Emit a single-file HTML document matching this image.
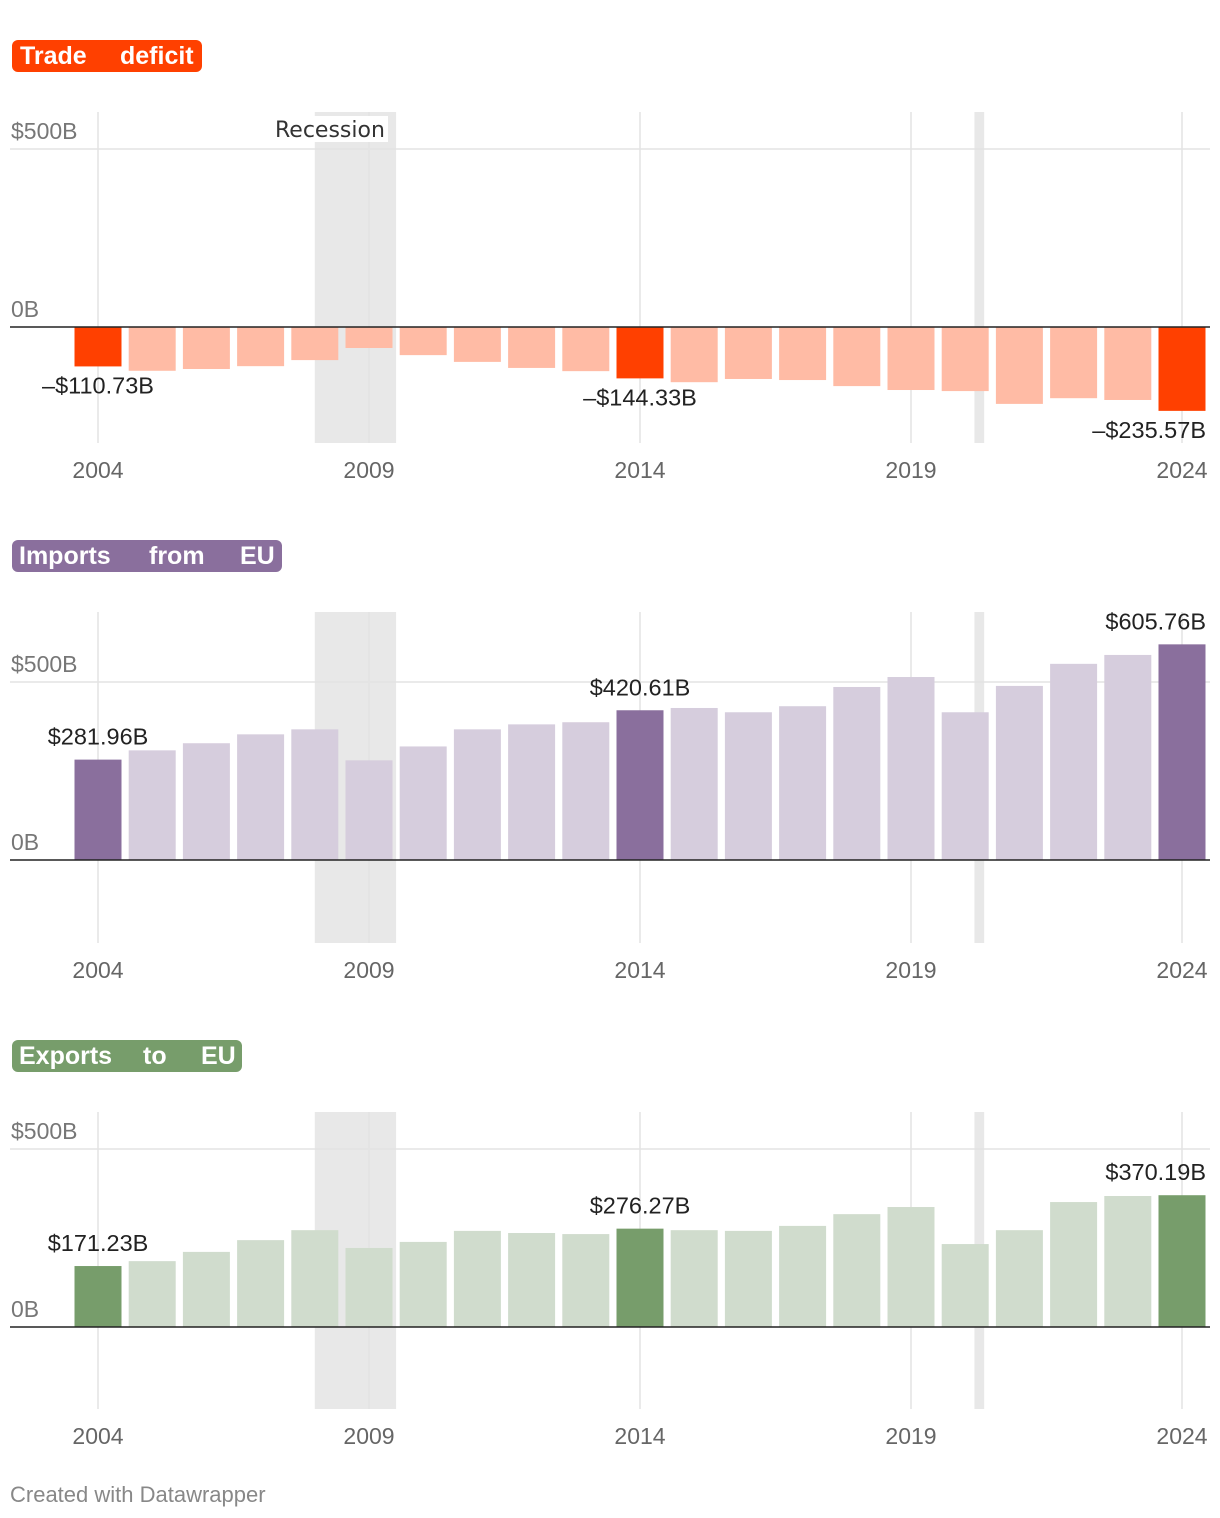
<!DOCTYPE html>
<html><head><meta charset="utf-8">
<style>
body{margin:0;background:#fff;}
svg{display:block;font-family:"Liberation Sans",Arial,sans-serif;}
</style></head>
<body>
<svg id="c" width="1220" height="1518" xmlns="http://www.w3.org/2000/svg"></svg>
<script>
const years = [2004,2005,2006,2007,2008,2009,2010,2011,2012,2013,2014,2015,2016,2017,2018,2019,2020,2021,2022,2023,2024];
const deficitValues = [-110.73,-123,-118,-110,-93,-59,-79,-98,-115,-124,-144.33,-155,-146,-149,-166,-177,-180,-216,-200,-205,-235.57];
const importValues = [281.96,308,328,353,367,280,319,367,381,387,420.61,427,415,432,486,514,415,489,551,576,605.76];
const exportValues = [171.23,185,211,244,272,222,239,270,264,261,276.27,272,270,284,317,337,233,272,351,368,370.19];
const tickYears = [2004,2009,2014,2019,2024];
const yTicks = [0,500];
const highlightYears = [2004,2014,2024];
const recessions = [[2008.0,2009.5],[2020.17,2020.35]];

const NS="http://www.w3.org/2000/svg";
const svg=document.getElementById('c');
function mk(tag,attrs,parent){const e=document.createElementNS(NS,tag);for(const k in attrs)e.setAttribute(k,attrs[k]);(parent||svg).appendChild(e);return e;}
function xS(y){return 98+(y-2004)*54.2;}
const fmt=v=>(v<0?'\u2013$':'$')+Math.abs(v).toFixed(2)+'B';

const charts=[
 {name:'trade-deficit',words:[['Trade',20],['deficit',120]],titleW:190,top:40,y0:327,plotTop:112,plotBot:443,axisY:470,vals:deficitValues,dark:'#ff4000',light:'#ffbba5'},
 {name:'imports-from-eu',words:[['Imports',19],['from',149],['EU',240]],titleW:270,top:540,y0:860,plotTop:612,plotBot:943,axisY:970,vals:importValues,dark:'#8a6f9d',light:'#d6cddd'},
 {name:'exports-to-eu',words:[['Exports',19],['to',143],['EU',201]],titleW:230,top:1040,y0:1327,plotTop:1112,plotBot:1409,axisY:1436,vals:exportValues,dark:'#779d6b',light:'#d0dccd'}
];

charts.forEach((ch,ci)=>{
  const g=mk('g',{});
  
  
  const yS=v=>ch.y0-v*178/500;
  const pill=mk('rect',{x:12,y:ch.top,width:ch.titleW,height:32,rx:6,fill:ch.dark},g);
  
  
  ch.words.forEach(w=>{
    const tt=mk('text',{x:w[1],y:ch.top+24,fill:'#fff','font-size':25,'font-weight':'bold'},g);
    tt.textContent=w[0];
    
    
  });
  recessions.forEach(r=>{
    const s=mk('rect',{x:xS(r[0]),y:ch.plotTop,width:xS(r[1])-xS(r[0]),height:ch.plotBot-ch.plotTop,fill:'#e8e8e8'},g);
    
    
  });
  tickYears.forEach(y=>{
    const l=mk('line',{x1:xS(y),x2:xS(y),y1:ch.plotTop,y2:ch.plotBot,stroke:'#e3e3e3','stroke-width':1.5},g);
    
    
    const t=mk('text',{x:xS(y),y:ch.axisY+8,'text-anchor':'middle','font-size':23,fill:'#666'},g);
    t.textContent=y;
    
    
  });
  yTicks.forEach(v=>{
    if(v!==0){const l=mk('line',{x1:10,x2:1210,y1:yS(v),y2:yS(v),stroke:'#e3e3e3','stroke-width':1.5},g);
      
      }
    const t=mk('text',{x:11,y:yS(v)-10,'font-size':23,fill:'#777'},g);
    t.textContent=(v===0?'':'$')+v+'B';
    
    
  });
  if(ci===0){
    const bg=mk('rect',{x:272,y:116,width:116,height:26,fill:'#fff'},g);
    
    
    const t=mk('text',{x:275,y:137,'font-size':22,fill:'#333','font-family':'"DejaVu Sans","Liberation Sans",sans-serif'},g);
    t.textContent='Recession';
    
    
  }
  years.forEach((yr,i)=>{
    const v=ch.vals[i];
    const hl=highlightYears.includes(yr);
    const top=Math.min(yS(v),ch.y0), h=Math.abs(yS(v)-ch.y0);
    const b=mk('rect',{x:xS(yr)-23.5,y:top,width:47,height:h,fill:hl?ch.dark:ch.light},g);
    
    
    if(hl){
      let tx=xS(yr),anchor='middle',ty;
      if(v<0){ty=yS(v)+27;} else {ty=yS(v)-15;}
      if(yr===2024){anchor='end';tx=xS(yr)+24;}
      const t=mk('text',{x:tx,y:ty,'text-anchor':anchor,'font-size':23.5,fill:'#222'},g);
      t.textContent=fmt(v);
      
      
    }
  });
  const base=mk('line',{x1:10,x2:1210,y1:ch.y0,y2:ch.y0,stroke:'#222','stroke-width':1.5},g);
  
  
});
const cr=mk('text',{x:10,y:1502,'font-size':22,fill:'#888'});
cr.textContent='Created with Datawrapper';


</script>
</body></html>
